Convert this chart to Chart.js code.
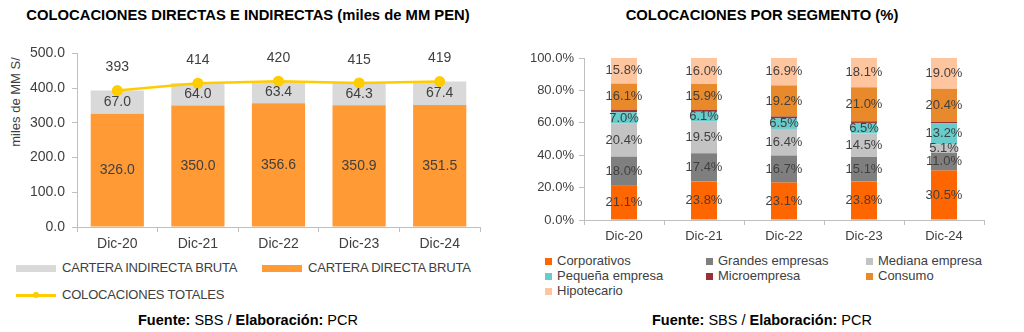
<!DOCTYPE html>
<html lang="es">
<head>
<meta charset="UTF-8">
<title>Colocaciones</title>
<style>
    body {
        margin: 0;
        width: 1024px;
        height: 332px;
        background: #ffffff;
        font-family: "Liberation Sans", Arial, sans-serif;
        color: #404040;
        position: relative;
        overflow: hidden;
    }
    .title {
        position: absolute;
        top: 7px;
        width: 500px;
        text-align: center;
        font-weight: bold;
        font-size: 14.8px;
        color: #000;
    }
    .source {
        position: absolute;
        top: 312px;
        width: 500px;
        text-align: center;
        font-size: 14.5px;
        color: #000;
    }
    .box {
        position: absolute;
    }
    .ytitle {
        position: absolute;
        left: 15px;
        top: 102px;
        font-size: 13px;
        color: #404040;
        white-space: nowrap;
        transform: translate(-50%, -50%) rotate(-90deg);
    }
    .leg {
        position: absolute;
        font-size: 13px;
        color: #404040;
        white-space: nowrap;
    }
    .leg-left { letter-spacing: -0.2px; }
    .sw {
        position: absolute;
    }
</style>
</head>
<body>
    <!-- izquierda -->
    <div class="title" style="left:-2px;">COLOCACIONES DIRECTAS E INDIRECTAS (miles de MM PEN)</div>
    <div class="ytitle">miles de MM S/</div>
    <div class="box" style="left:0; top:38px; width:500px; height:215px;">
        <canvas id="leftChart"></canvas>
    </div>
    <div id="leftLegend"></div>
    <div class="source" style="left:-2px;"><b>Fuente:</b> SBS / <b>Elaboración:</b> PCR</div>

    <!-- derecha -->
    <div class="title" style="left:512px;">COLOCACIONES POR SEGMENTO (%)</div>
    <div class="box" style="left:512px; top:38px; width:500px; height:210px;">
        <canvas id="rightChart"></canvas>
    </div>
    <div id="rightLegend"></div>
    <div class="source" style="left:512px;"><b>Fuente:</b> SBS / <b>Elaboración:</b> PCR</div>

<script src="https://cdn.jsdelivr.net/npm/chart.js"></script>
<script>
    // datos
    const years = ['Dic-20', 'Dic-21', 'Dic-22', 'Dic-23', 'Dic-24'];
    const directa = [326.0, 350.0, 356.6, 350.9, 351.5];
    const indirecta = [67.0, 64.0, 63.4, 64.3, 67.4];
    const totales = [393, 414, 420, 415, 419];
    const leftTicks = [0, 100, 200, 300, 400, 500];

    const segmentos = ['Corporativos', 'Grandes empresas', 'Mediana empresa',
        'Pequeña empresa', 'Microempresa', 'Consumo', 'Hipotecario'];
    const corporativos = [21.1, 23.8, 23.1, 23.8, 30.5];
    const grandes = [18.0, 17.4, 16.7, 15.1, 11.0];
    const mediana = [20.4, 19.5, 16.4, 14.5, 5.1];
    const pequena = [7.0, 6.1, 6.5, 6.5, 13.2];
    const micro = [1.6, 1.3, 1.2, 1.0, 0.8];
    const consumo = [16.1, 15.9, 19.2, 21.0, 20.4];
    const hipotecario = [15.8, 16.0, 16.9, 18.1, 19.0];
    const rightTicks = [0, 20, 40, 60, 80, 100];

    const FONT = '"Liberation Sans", Arial, sans-serif';
    const AXIS = '#BFBFBF';
    const TXT = '#404040';

    // etiquetas de valores
    const valueLabels = {
        id: 'valueLabels',
        afterDatasetsDraw(chart, args, opts) {
            const ctx = chart.ctx;
            ctx.save();
            ctx.font = opts.size + 'px ' + FONT;
            ctx.fillStyle = TXT;
            ctx.textAlign = 'center';
            ctx.textBaseline = 'middle';
            chart.data.datasets.forEach((ds, i) => {
                if (!ds.fmt) return;
                const meta = chart.getDatasetMeta(i);
                meta.data.forEach((el, j) => {
                    const v = ds.data[j];
                    let y;
                    if (meta.type === 'line') y = el.y - 23;
                    else y = (el.y + el.base) / 2;
                    ctx.fillText(ds.fmt(v), el.x, y);
                });
            });
            ctx.restore();
        }
    };

    // grafico izquierdo
    new Chart(document.getElementById('leftChart'), {
        type: 'bar',
        data: {
            labels: years,
            datasets: [
                {
                    type: 'line',
                    label: 'COLOCACIONES TOTALES',
                    data: totales,
                    stack: 'total',
                    borderColor: '#FFCC00',
                    backgroundColor: '#FFCC00',
                    borderWidth: 2.5,
                    pointRadius: 5.5,
                    pointBackgroundColor: '#FFCC00',
                    pointBorderWidth: 0,
                    order: 0,
                    fmt: v => v.toFixed(0)
                },
                {
                    label: 'CARTERA DIRECTA BRUTA',
                    data: directa,
                    stack: 'bars',
                    backgroundColor: '#FF9A35',
                    order: 1,
                    fmt: v => v.toFixed(1)
                },
                {
                    label: 'CARTERA INDIRECTA BRUTA',
                    data: indirecta,
                    stack: 'bars',
                    backgroundColor: '#D9D9D9',
                    order: 1,
                    fmt: v => v.toFixed(1)
                }
            ]
        },
        options: {
            responsive: true,
            maintainAspectRatio: false,
            animation: false,
            layout: { padding: { top: 15, right: 20, left: 0, bottom: 0 } },
            datasets: { bar: { barPercentage: 0.66, categoryPercentage: 1 } },
            plugins: {
                legend: { display: false },
                tooltip: { enabled: false },
                valueLabels: { size: 14 }
            },
            scales: {
                x: {
                    stacked: true,
                    afterFit: s => { s.height = 26; },
                    grid: { drawOnChartArea: false, tickLength: 5, color: AXIS },
                    border: { color: AXIS },
                    ticks: { color: TXT, font: { family: FONT, size: 14 }, padding: 4 }
                },
                y: {
                    stacked: true,
                    min: 0,
                    max: 500,
                    afterFit: s => { s.width = 77; },
                    afterBuildTicks: s => { s.ticks = leftTicks.map(v => ({ value: v })); },
                    grid: { drawOnChartArea: false, tickLength: 5, color: AXIS },
                    border: { color: AXIS },
                    ticks: {
                        color: TXT,
                        font: { family: FONT, size: 14 },
                        padding: 7,
                        callback: v => v.toFixed(1)
                    }
                }
            }
        },
        plugins: [valueLabels]
    });

    // grafico derecho
    const segData = [corporativos, grandes, mediana, pequena, micro, consumo, hipotecario];
    const segColors = ['#FF6600', '#7F7F7F', '#C3C3C3', '#66CCCC', '#993333', '#E8892B', '#FFC59E'];

    new Chart(document.getElementById('rightChart'), {
        type: 'bar',
        data: {
            labels: years,
            datasets: segmentos.map((name, i) => ({
                label: name,
                data: segData[i],
                backgroundColor: segColors[i],
                fmt: name === 'Microempresa' ? null : v => v.toFixed(1) + '%'
            }))
        },
        options: {
            responsive: true,
            maintainAspectRatio: false,
            animation: false,
            layout: { padding: { top: 20, right: 28, left: 0, bottom: 0 } },
            datasets: { bar: { barPercentage: 0.325, categoryPercentage: 1 } },
            plugins: {
                legend: { display: false },
                tooltip: { enabled: false },
                valueLabels: { size: 13 }
            },
            scales: {
                x: {
                    stacked: true,
                    afterFit: s => { s.height = 28; },
                    grid: { drawOnChartArea: false, tickLength: 5, color: AXIS },
                    border: { color: AXIS },
                    ticks: { color: TXT, font: { family: FONT, size: 13 }, padding: 4 }
                },
                y: {
                    stacked: true,
                    min: 0,
                    max: 100,
                    afterFit: s => { s.width = 72; },
                    afterBuildTicks: s => { s.ticks = rightTicks.map(v => ({ value: v })); },
                    grid: { drawOnChartArea: false, tickLength: 5, color: AXIS },
                    border: { color: AXIS },
                    ticks: {
                        color: TXT,
                        font: { family: FONT, size: 13 },
                        padding: 5,
                        callback: v => v.toFixed(1) + '%'
                    }
                }
            }
        },
        plugins: [valueLabels]
    });

    // leyendas
    const leftLeg = document.getElementById('leftLegend');
    const leftItems = [
        { name: 'CARTERA INDIRECTA BRUTA', color: '#D9D9D9', x: 16, y: 268, kind: 'bar' },
        { name: 'CARTERA DIRECTA BRUTA', color: '#FF9A35', x: 262, y: 268, kind: 'bar' },
        { name: 'COLOCACIONES TOTALES', color: '#FFCC00', x: 16, y: 295, kind: 'line' }
    ];
    leftItems.forEach(it => {
        if (it.kind === 'bar') {
            leftLeg.innerHTML += `<div class="sw" style="left:${it.x}px;top:${it.y - 3}px;width:40px;height:7px;background:${it.color}"></div>`;
        } else {
            leftLeg.innerHTML += `<div class="sw" style="left:${it.x}px;top:${it.y - 1}px;width:40px;height:2.5px;background:${it.color}"></div>`;
            leftLeg.innerHTML += `<div class="sw" style="left:${it.x + 17}px;top:${it.y - 3}px;width:6px;height:6px;border-radius:3px;background:${it.color}"></div>`;
        }
        leftLeg.innerHTML += `<div class="leg leg-left" style="left:${it.x + 46}px;top:${it.y - 8}px;">${it.name}</div>`;
    });

    const rightLeg = document.getElementById('rightLegend');
    const colX = [545, 706, 866];
    const rowY = [261, 276, 291];
    segmentos.forEach((name, i) => {
        const x = colX[i % 3], y = rowY[Math.floor(i / 3)];
        rightLeg.innerHTML += `<div class="sw" style="left:${x}px;top:${y - 3}px;width:7px;height:7px;background:${segColors[i]}"></div>`;
        rightLeg.innerHTML += `<div class="leg" style="left:${x + 12}px;top:${y - 8}px;">${name}</div>`;
    });
</script>
</body>
</html>
